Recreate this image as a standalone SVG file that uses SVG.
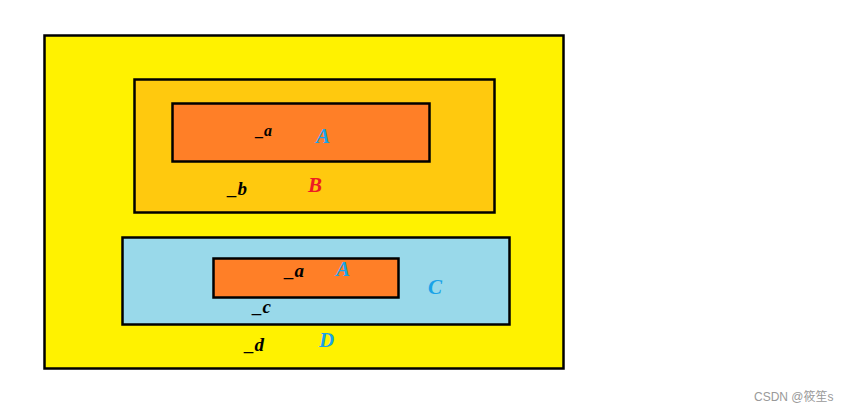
<svg xmlns="http://www.w3.org/2000/svg" width="851" height="412" viewBox="0 0 851 412">
<style>
.box{stroke:#000;stroke-width:2.5}
.t{font-family:"Liberation Serif",serif;font-weight:bold;font-style:italic}
.v{font-size:19px;fill:#000}
.n{font-size:21px}
.blue{fill:#1AA3E8}
.red{fill:#ED1C24}
.wm{font-family:"Liberation Sans",Arial,"Noto Sans CJK SC",sans-serif;font-size:12px;fill:#999}
</style>
<rect width="851" height="412" fill="#fff"/>
<g id="D">
<rect class="box" x="44.5" y="35.5" width="519" height="333" fill="#FFF200"/>
<text class="t v" x="245" y="351">_d</text>
<text class="t n blue" x="319" y="347">D</text>
</g>
<g id="B">
<rect class="box" x="134.5" y="79.5" width="360" height="133" fill="#FFC90E"/>
<text class="t v" x="228" y="195">_b</text>
<text class="t n red" x="308" y="192">B</text>
</g>
<g id="A1">
<rect class="box" x="172.5" y="103.5" width="257" height="58" fill="#FF7F27"/>
<text class="t" x="256" y="136" font-size="16">_a</text>
<text class="t n blue" x="316" y="143">A</text>
</g>
<g id="C">
<rect class="box" x="122.5" y="237.5" width="387" height="87" fill="#99D9EA"/>
<text class="t v" x="253" y="313">_c</text>
<text class="t n blue" x="428" y="294">C</text>
</g>
<g id="A2">
<rect class="box" x="213.5" y="258.5" width="185" height="39" fill="#FF7F27"/>
<text class="t v" x="285" y="277">_a</text>
<text class="t n blue" x="336" y="276">A</text>
</g>
<g id="connectors"></g>
<text class="wm" x="754" y="401">CSDN @筱笙s</text>
</svg>
